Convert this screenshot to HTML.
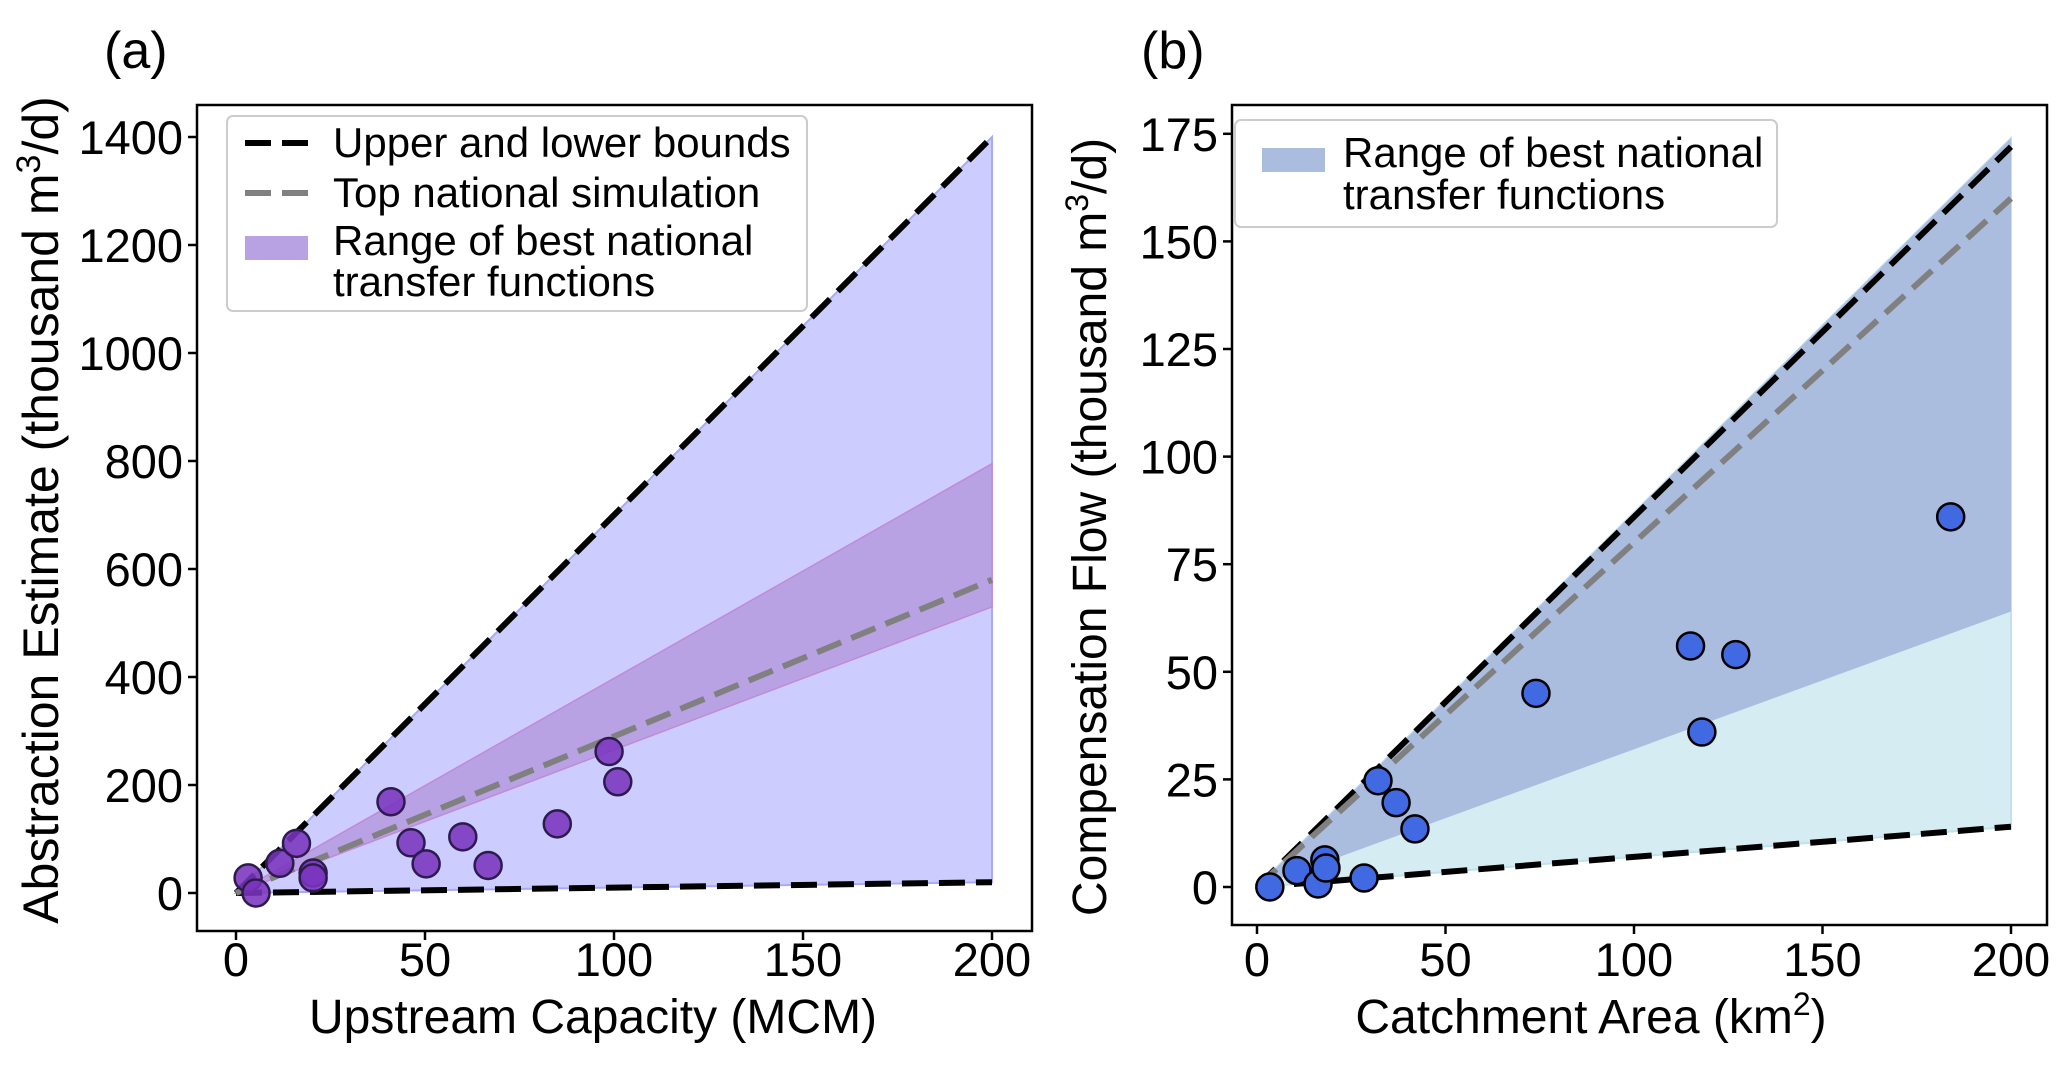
<!DOCTYPE html>
<html><head><meta charset="utf-8"><style>
body{margin:0;background:#fff}
svg text{font-family:"Liberation Sans",Arial,sans-serif;fill:#000}
</style></head><body>
<svg id="c" width="2067" height="1062" viewBox="0 0 2067 1062" xmlns="http://www.w3.org/2000/svg"></svg>
<script>
// Panel (a) data
const aPointsX=[3.2,5.3,11.6,16,20.4,20.4,41,46.3,50.3,60,66.7,85,98.7,101];
const aPointsY=[28,0,55,92,37,28,169,93,54,104,51,128,262,206];
const aUpperEnd=1400, aLowerEnd=20, aTopSim=580, aBandHi=795, aBandLo=530;
const aXTicks=[0,50,100,150,200];
const aYTicks=[0,200,400,600,800,1000,1200,1400];
// Panel (b) data
const bPointsX=[3.4,10.6,16.2,18,18.3,28.4,32.1,36.9,41.9,74,115,118,127,184];
const bPointsY=[0,3.8,0.7,6.3,4.4,2.1,24.7,19.6,13.5,45,56,36,54,86];
const bUpperEnd=172, bLowerEnd=14, bTopSim=160, bFillTop=174, bBandLo=64;
const bXTicks=[0,50,100,150,200];
const bYTicks=[0,25,50,75,100,125,150,175];

const NS="http://www.w3.org/2000/svg";
const svg=document.getElementById('c');
function mk(tag,attrs,parent){const e=document.createElementNS(NS,tag);for(const k in attrs)e.setAttribute(k,attrs[k]);(parent||svg).appendChild(e);return e;}

function panel(cfg){
  const g=mk('g',{});
  
  
  const X=v=>cfg.x0+v*(cfg.x200-cfg.x0)/200;
  const Y=v=>cfg.y0-v*cfg.yk;
  cfg.draw(g,X,Y);
  const f=mk('rect',{x:cfg.L,y:cfg.T,width:cfg.R-cfg.L,height:cfg.B-cfg.T,fill:'none',stroke:'#000','stroke-width':2.5},g);
  
  
  cfg.xt.forEach(t=>{
    mk('line',{x1:X(t),x2:X(t),y1:cfg.B,y2:cfg.B+9,stroke:'#000','stroke-width':2.5},g);
    const tx=mk('text',{x:X(t),y:976,'text-anchor':'middle','font-size':47},g);
    tx.textContent=t;
    
    
  });
  cfg.yt.forEach(t=>{
    mk('line',{x1:cfg.L-9,x2:cfg.L,y1:Y(t),y2:Y(t),stroke:'#000','stroke-width':2.5},g);
    const tx=mk('text',{x:cfg.L-14,y:Y(t)+17,'text-anchor':'end','font-size':47},g);
    tx.textContent=t;
    
    
  });
  return {g,X,Y};
}

function dots(g,X,Y,xs,ys,fill,stroke,name){
  xs.forEach((v,i)=>{
    const c=mk('circle',{cx:X(v),cy:Y(ys[i]),r:13.5,fill:fill,stroke:stroke,'stroke-width':2.5},g);
    
    
  });
}
function dline(g,X,Y,end,color,w,name){
  const l=mk('line',{x1:X(0),y1:Y(0),x2:X(200),y2:Y(end),stroke:color,'stroke-width':w,'stroke-dasharray':'26,11'},g);
  
  
}

panel({name:'panel-a',L:197,R:1032,T:105,B:931,x0:236,x200:992,y0:893,yk:0.54,xt:aXTicks,yt:aYTicks,
 draw:(g,X,Y)=>{
  const p=mk('polygon',{points:`${X(0)},${Y(0)} ${X(200)},${Y(aUpperEnd)} ${X(200)},${Y(aLowerEnd)}`,fill:'#ccccff',stroke:'#a8a8ff','stroke-width':2},g);
  
  const b=mk('polygon',{points:`${X(0)},${Y(0)} ${X(200)},${Y(aBandHi)} ${X(200)},${Y(aBandLo)}`,fill:'#b9a2e4',stroke:'#c08ad8','stroke-width':1.5},g);
  
  dline(g,X,Y,aUpperEnd,'#000',6,'upper-bound-line');
  dline(g,X,Y,aLowerEnd,'#000',6,'lower-bound-line');
  dline(g,X,Y,aTopSim,'#808080',6,'top-simulation-line');
  dots(g,X,Y,aPointsX,aPointsY,'rgba(122,52,190,0.88)','#2d1b4e','data-point');
 }});
panel({name:'panel-b',L:1232,R:2047,T:105,B:925,x0:1257,x200:2011,y0:887,yk:4.304,xt:bXTicks,yt:bYTicks,
 draw:(g,X,Y)=>{
  const p=mk('polygon',{points:`${X(0)},${Y(0)} ${X(200)},${Y(bFillTop)} ${X(200)},${Y(bLowerEnd)}`,fill:'#d4ecf2',stroke:'#bfe2ee','stroke-width':2},g);
  
  const b=mk('polygon',{points:`${X(0)},${Y(0)} ${X(200)},${Y(bFillTop)} ${X(200)},${Y(bBandLo)}`,fill:'#aabddf'},g);
  
  dline(g,X,Y,bUpperEnd,'#000',6,'upper-bound-line');
  dline(g,X,Y,bLowerEnd,'#000',6,'lower-bound-line');
  dline(g,X,Y,bTopSim,'#808080',6,'top-simulation-line');
  dots(g,X,Y,bPointsX,bPointsY,'#4169e1','#000','data-point');
 }});
</script>
<svg width="2067" height="1062" style="position:absolute;left:0;top:0" xmlns="http://www.w3.org/2000/svg">
<text x="104" y="68" font-size="52">(a)</text>
<text x="1141" y="68" font-size="52">(b)</text>
<text x="593" y="1033" font-size="48" text-anchor="middle">Upstream Capacity (MCM)</text>
<text x="1591" y="1033" font-size="48" text-anchor="middle">Catchment Area (km<tspan font-size="32" dy="-18">2</tspan><tspan dy="18">)</tspan></text>
<text transform="translate(58,510) rotate(-90)" font-size="50" text-anchor="middle">Abstraction Estimate (thousand m<tspan font-size="34" dy="-18">3</tspan><tspan dy="18">/d)</tspan></text>
<text transform="translate(1106,527) rotate(-90)" font-size="48" text-anchor="middle">Compensation Flow (thousand m<tspan font-size="32" dy="-18">3</tspan><tspan dy="18">/d)</tspan></text>
<g>
<rect x="227" y="116" width="580" height="195" rx="6" fill="#fff" fill-opacity="0.85" stroke="#ccc" stroke-width="2"/>
<line x1="245" y1="143" x2="308" y2="143" stroke="#000" stroke-width="6" stroke-dasharray="26,11"/>
<text x="333" y="157" font-size="42">Upper and lower bounds</text>
<line x1="245" y1="193" x2="308" y2="193" stroke="#808080" stroke-width="6" stroke-dasharray="26,11"/>
<text x="333" y="207" font-size="42">Top national simulation</text>
<rect x="245" y="236" width="63" height="24" fill="#b9a2e4"/>
<text x="333" y="255" font-size="42">Range of best national</text>
<text x="333" y="296" font-size="42"> transfer functions</text>
</g>
<g>
<rect x="1235" y="120" width="542" height="107" rx="6" fill="#fff" fill-opacity="0.85" stroke="#ccc" stroke-width="2"/>
<rect x="1262" y="148" width="63" height="24" fill="#aabddf"/>
<text x="1343" y="167" font-size="42">Range of best national</text>
<text x="1343" y="209" font-size="42"> transfer functions</text>
</g>
</svg>
</body></html>
